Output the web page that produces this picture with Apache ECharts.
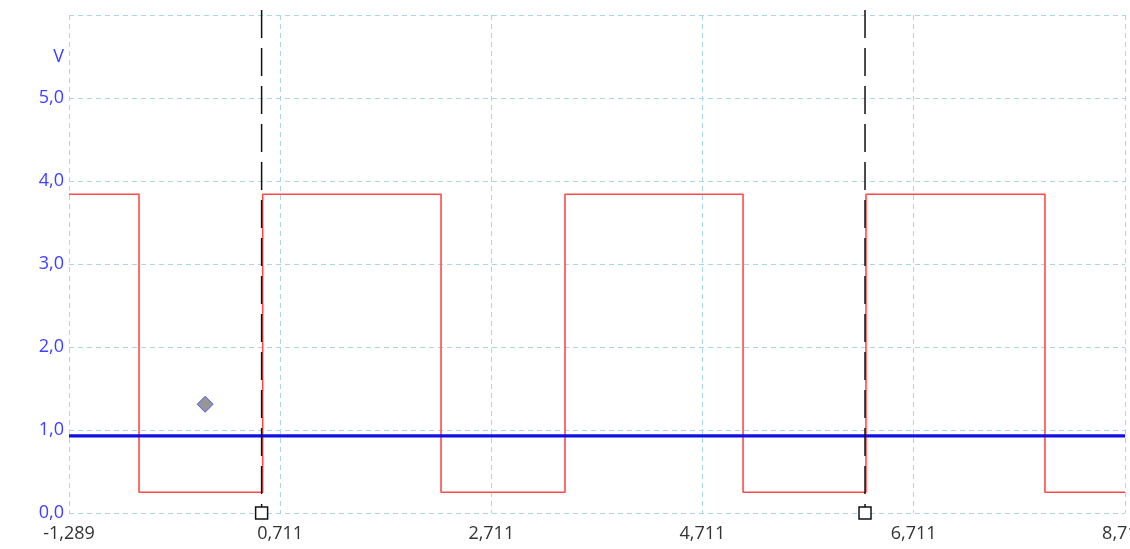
<!DOCTYPE html>
<html>
<head>
    <meta charset="utf-8">
    <title>Scope</title>
    <script src="https://cdn.jsdelivr.net/npm/echarts@6.0.0/dist/echarts.min.js"></script>
    <style>
        body { margin: 0; background: #fff; }
        #scope { width: 1130px; height: 549px; }
    </style>
</head>
<body>
<div id="scope"></div>

<script type="text/javascript">
    // time axis (ms) and ticks
    var tMin = -1.289;
    var tMax = 8.711;
    var tStep = 2;

    // red channel: square wave, time / volts at each corner
    var redT = [-1.289, -0.626, -0.626, 0.545, 0.545, 2.234, 2.234, 3.408, 3.408, 5.094, 5.094, 6.258, 6.258, 7.953, 7.953, 8.711];
    var redV = [3.84, 3.84, 0.25, 0.25, 3.84, 3.84, 0.25, 0.25, 3.84, 3.84, 0.25, 0.25, 3.84, 3.84, 0.25, 0.25];

    // blue channel: flat level
    var blueT = [-1.289, 8.711];
    var blueV = [0.93, 0.93];

    // cursors and the diamond marker
    var cursorT = [0.535, 6.249];
    var cursorTop = 6.06;
    var markerT = [0.0];
    var markerV = [1.31];

    function pairs(xs, ys) {
        var out = [];
        for (var i = 0; i < xs.length; i++) out.push([xs[i], ys[i]]);
        return out;
    }

    function comma(v, d) {
        return v.toFixed(d).replace('.', ',');
    }

    var series = [{
        name: 'red',
        type: 'line',
        data: pairs(redT, redV),
        symbol: 'none',
        lineStyle: { color: '#ff4a4a', width: 1.6 },
        z: 2
    }, {
        name: 'blue',
        type: 'line',
        data: pairs(blueT, blueV),
        symbol: 'none',
        lineStyle: { color: '#1010e6', width: 3.2 },
        z: 3
    }];

    for (var i = 0; i < cursorT.length; i++) {
        series.push({
            type: 'line',
            clip: false,
            data: [
                { value: [cursorT[i], cursorTop], symbol: 'none' },
                { value: [cursorT[i], 0], symbol: 'rect', symbolSize: 12 }
            ],
            lineStyle: { color: '#111', width: 1.5, type: [28, 10] },
            itemStyle: { color: '#fff', borderColor: '#111', borderWidth: 1.5 },
            z: 4
        });
    }

    series.push({
        type: 'scatter',
        data: pairs(markerT, markerV),
        symbol: 'diamond',
        symbolSize: 16,
        itemStyle: { color: '#7c7c7c', borderColor: '#3a3aff', borderWidth: 1 },
        z: 5
    });

    var chart = echarts.init(document.getElementById('scope'));
    chart.setOption({
        animation: false,
        grid: { left: 69, right: 5, top: 15, bottom: 36, outerBoundsMode: 'none' },
        graphic: [{
            type: 'text',
            x: 64,
            y: 57,
            style: {
                text: 'V',
                fill: '#4040ff',
                font: '18px "Open Sans"',
                align: 'right',
                verticalAlign: 'middle'
            }
        }],
        xAxis: {
            type: 'value',
            min: tMin,
            max: tMax,
            interval: tStep,
            axisLine: { show: false },
            axisTick: { show: false },
            axisLabel: {
                margin: 12,
                color: '#333',
                fontFamily: 'Open Sans',
                fontSize: 18,
                showMaxLabel: true,
                hideOverlap: false,
                formatter: function (v) {
                    var k = Math.round((v - tMin) / tStep);
                    return comma(tMin + k * tStep, 3);
                }
            },
            splitLine: { show: true, lineStyle: { color: '#aad6e6', type: [5, 4], width: 1 } }
        },
        yAxis: {
            type: 'value',
            min: 0,
            max: 6,
            interval: 1,
            axisLine: { show: false },
            axisTick: { show: false },
            axisLabel: {
                margin: 5,
                color: '#4040ff',
                fontFamily: 'Open Sans',
                fontSize: 18,
                formatter: function (v) { return v >= 6 ? '' : comma(v, 1); }
            },
            splitLine: { show: true, lineStyle: { color: '#aad6e6', type: [5, 4], width: 1 } }
        },
        series: series
    });
</script>
</body>
</html>
